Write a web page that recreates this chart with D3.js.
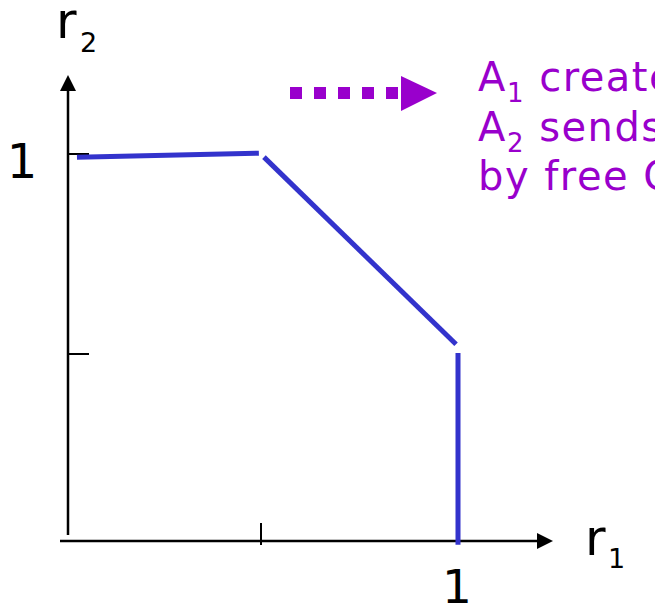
<!DOCTYPE html>
<html lang="en">
<head>
<meta charset="utf-8">
<script src="https://d3js.org/d3.v7.min.js"></script>
<style>
  body { margin: 0; background: #fff; }
  text { font-family: "DejaVu Sans", Verdana, sans-serif; }
</style>
</head>
<body>
<script>
    // data: the three pieces of the rate region boundary (r1, r2)
    const segTop = [ {r1: 0.028, r2: 0.992}, {r1: 0.492, r2: 1.002} ];
    const segSlope = [ {r1: 0.505, r2: 0.992}, {r1: 0.995, r2: 0.517} ];
    const segSide = [ {r1: 1.0, r2: 0.495}, {r1: 1.0, r2: 0.008} ];
    const xTicks = [0.5, 1];
    const yTicks = [0.5, 1];
    const xTickLabels = {1: "1"};
    const yTickLabels = {1: "1"};
    const noteLines = [ ["A", "1", " creates"], ["A", "2", " sends"], ["by free C", "", ""] ];

    const W = 655, H = 610;
    const axisX = 68, axisY = 541;   // where the axis lines sit
    const blue = "#3333cc", purple = "#9900cc";

    const svg = d3.select("body").append("svg")
        .attr("width", W).attr("height", H);

    const x = d3.scaleLinear().domain([0, 1]).range([66, 458]);
    const y = d3.scaleLinear().domain([0, 1]).range([548, 154]);

    // axes
    svg.append("line").attr("x1", axisX).attr("x2", axisX)
        .attr("y1", 88).attr("y2", 535)
        .attr("stroke", "#000").attr("stroke-width", 2.5);
    svg.append("path").attr("d", `M${axisX},75 L${axisX-8},91 L${axisX+8},91 Z`).attr("fill", "#000");

    svg.append("line").attr("x1", 60).attr("x2", 540)
        .attr("y1", axisY).attr("y2", axisY)
        .attr("stroke", "#000").attr("stroke-width", 2.5);
    svg.append("path").attr("d", `M553,${axisY} L537,${axisY-8} L537,${axisY+8} Z`).attr("fill", "#000");

    // ticks
    svg.selectAll(".ytick").data(yTicks).enter().append("line")
        .attr("x1", axisX).attr("x2", axisX + 21)
        .attr("y1", d => y(d) + (d == 1 ? 0 : 3)).attr("y2", d => y(d) + (d == 1 ? 0 : 3))
        .attr("stroke", "#000").attr("stroke-width", 2);
    svg.selectAll(".xtick").data(xTicks.filter(d => d < 1)).enter().append("line")
        .attr("x1", d => x(d) - 1).attr("x2", d => x(d) - 1)
        .attr("y1", axisY - 18).attr("y2", axisY + 4)
        .attr("stroke", "#000").attr("stroke-width", 2);

    // tick labels
    svg.selectAll(".ylab").data(yTicks.filter(d => yTickLabels[d])).enter().append("text")
        .text(d => yTickLabels[d])
        .attr("x", 22).attr("y", d => y(d) + 24)
        .attr("text-anchor", "middle").style("font-size", "48px");
    svg.selectAll(".xlab").data(xTicks.filter(d => xTickLabels[d])).enter().append("text")
        .text(d => xTickLabels[d])
        .attr("x", d => x(d) - 1).attr("y", 603)
        .attr("text-anchor", "middle").style("font-size", "47px");

    // axis titles
    const t2 = svg.append("text").attr("x", 56).attr("y", 38).style("font-size", "50px");
    t2.append("tspan").text("r");
    t2.append("tspan").attr("x", 80).attr("y", 52).style("font-size", "27px").text("2");
    const t1 = svg.append("text").attr("x", 585).attr("y", 555).style("font-size", "50px");
    t1.append("tspan").text("r");
    t1.append("tspan").attr("x", 608).attr("y", 568).style("font-size", "27px").text("1");

    // boundary
    const line = d3.line().x(d => x(d.r1)).y(d => y(d.r2));
    [segTop, segSlope, segSide].forEach(seg => {
        svg.append("path").datum(seg)
            .attr("fill", "none").attr("stroke", blue)
            .attr("stroke-width", 5).attr("d", line);
    });

    // dotted arrow
    svg.append("line").attr("x1", 290).attr("x2", 400)
        .attr("y1", 93).attr("y2", 93)
        .attr("stroke", purple).attr("stroke-width", 12)
        .attr("stroke-dasharray", "12,12");
    svg.append("path").attr("d", "M401,76 L437,93 L401,111 Z").attr("fill", purple);

    // note text
    noteLines.forEach((parts, i) => {
        const base = 91 + i * 49.5;
        const t = svg.append("text").attr("x", 478).attr("y", base)
            .attr("fill", purple).style("font-size", "40px")
            .style("letter-spacing", "1.5px");
        t.append("tspan").text(parts[0]);
        if (parts[1]) {
            t.append("tspan").attr("dy", 11).style("font-size", "26px").text(parts[1]);
            t.append("tspan").attr("dy", -11).text(parts[2]);
        }
    });
</script>
</body>
</html>
